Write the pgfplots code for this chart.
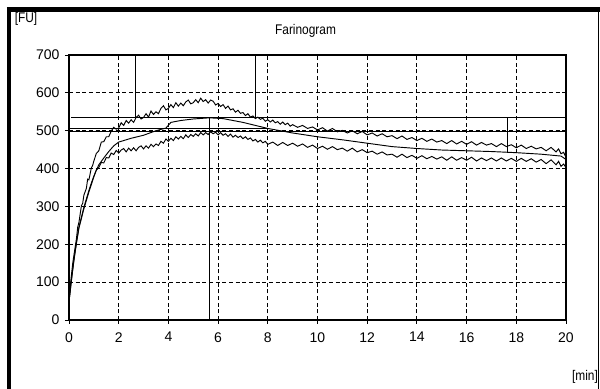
\documentclass[border=0pt]{standalone}
\usepackage{fontspec}
\setmainfont{Liberation Sans}
\newfontfamily\narrowfont{Liberation Sans}[FakeStretch=0.85]
\usepackage{pgfplots}
\pgfplotsset{compat=1.18}
\usepackage{pgfplotstable}

\pgfplotstableread{
t v
0 48
0.05 90
0.1 120
0.15 150
0.2 172
0.3 215
0.35 245
0.4 258
0.5 302
0.55 308
0.6 330
0.7 348
0.75 372
0.8 370
0.9 402
0.95 408
1.0 420
1.1 440
1.2 447
1.3 470
1.4 471
1.5 484
1.6 484
1.7 499
1.8 509
1.9 504
2.0 507
2.1 521
2.2 514
2.3 527
2.4 520
2.5 529
2.6 522
2.7 535
2.8 541
2.9 531
3.0 535
3.1 545
3.2 536
3.3 552
3.4 543
3.5 550
3.6 545
3.7 559
3.8 566
3.9 555
4.0 559
4.1 569
4.2 561
4.3 574
4.4 565
4.5 573
4.6 566
4.7 576
4.8 581
4.9 571
5.0 574
5.1 582
5.2 574
5.3 586
5.4 577
5.5 582
5.6 573
5.7 581
5.8 578
5.9 568
6.0 572
6.1 564
6.2 569
6.3 559
6.4 565
6.5 555
6.6 558
6.7 549
6.8 554
6.9 546
7.0 548
7.1 540
7.2 545
7.3 536
7.4 539
7.5 532
7.6 536
7.7 530
7.8 533
7.9 525
8.0 529
8.1 523
8.2 528
8.3 521
8.4 524
8.5 517
8.6 523
8.7 516
8.8 520
8.9 512
9.0 516
9.2 509
9.4 514
9.6 506
9.8 510
10.0 502
10.2 508
10.4 499
10.6 506
10.8 497
11.0 501
11.2 494
11.4 500
11.6 492
11.8 498
12.0 489
12.2 494
12.4 486
12.6 492
12.8 484
13.0 487
13.2 479
13.4 486
13.6 477
13.8 482
14.0 474
14.2 480
14.4 472
14.6 478
14.8 470
15.0 474
15.2 466
15.4 474
15.6 465
15.8 472
16.0 464
16.2 471
16.4 462
16.6 469
16.8 462
17.0 466
17.2 458
17.4 466
17.6 458
17.8 463
18.0 455
18.2 462
18.4 453
18.6 459
18.8 452
19.0 456
19.2 447
19.4 456
19.6 444
19.7 452
19.8 439
19.9 443
20.0 430
}\upperdata

\pgfplotstableread{
t v
0 48
0.1 105
0.2 160
0.3 205
0.4 245
0.5 272
0.6 298
0.7 320
0.8 342
0.9 362
1.0 380
1.1 396
1.2 410
1.4 428
1.6 445
1.8 460
2.0 470
2.5 480
3.0 488
3.5 500
3.9 507
4.1 522
4.5 527
5.0 531
5.65 534
6.2 532
7.0 522
8.0 506
9.0 494
10.0 484
11.0 476
12.0 467
13.0 458
14.0 453
15.0 449
16.0 447
17.0 445
18.0 442
19.0 438
19.8 433
20.0 424
}\middata

\pgfplotstableread{
t v
0 48
0.1 108
0.2 158
0.3 203
0.4 243
0.5 268
0.6 294
0.7 316
0.8 338
0.9 358
1.0 378
1.1 396
1.2 403
1.3 416
1.4 415
1.5 429
1.6 428
1.7 441
1.8 437
1.9 448
2.0 441
2.1 449
2.2 453
2.3 444
2.4 454
2.5 447
2.6 455
2.7 447
2.8 456
2.9 460
3.0 452
3.1 460
3.2 454
3.3 464
3.4 458
3.5 465
3.6 461
3.7 472
3.8 467
3.9 478
4.0 472
4.1 480
4.2 474
4.3 484
4.4 478
4.5 485
4.6 479
4.7 489
4.8 482
4.9 490
5.0 485
5.1 492
5.2 486
5.3 495
5.4 489
5.5 495
5.6 490
5.7 497
5.8 492
5.9 496
6.0 489
6.1 495
6.2 488
6.3 492
6.4 485
6.5 491
6.6 483
6.7 488
6.8 482
6.9 486
7.0 479
7.1 484
7.2 477
7.3 481
7.4 473
7.5 477
7.6 470
7.7 475
7.8 468
7.9 472
8.0 464
8.2 470
8.4 461
8.6 469
8.8 461
9.0 467
9.2 459
9.4 465
9.6 456
9.8 462
10.0 453
10.2 459
10.4 451
10.6 458
10.8 450
11.0 454
11.2 446
11.4 454
11.6 444
11.8 450
12.0 442
12.2 446
12.4 438
12.6 444
12.8 436
13.0 438
13.2 430
13.4 438
13.6 429
13.8 435
14.0 427
14.2 434
14.4 426
14.6 432
14.8 425
15.0 431
15.2 422
15.4 431
15.6 422
15.8 429
16.0 422
16.2 430
16.4 420
16.6 428
16.8 421
17.0 428
17.2 420
17.4 428
17.6 420
17.8 427
18.0 419
18.2 427
18.4 419
18.6 426
18.8 417
19.0 424
19.2 413
19.4 423
19.6 410
19.7 419
19.8 406
19.9 412
20.0 403
}\lowerdata

\begin{document}
\begin{tikzpicture}
\useasboundingbox (-51.75pt,-51.75pt) rectangle (398.25pt,240pt);
% outer frame
\draw[line width=3pt] (-45pt,-52pt) -- (-45pt,232.9pt);
\draw[line width=3.75pt] (-46.5pt,232.9pt) -- (399pt,232.9pt);
\draw[line width=0.75pt] (396.75pt,232.9pt) -- (396.75pt,-52pt);
\node[font=\narrowfont\fontsize{10.5}{12}\selectfont] at (-32.25pt,225.75pt) {[FU]};
\node[font=\narrowfont\fontsize{10.5}{12}\selectfont] at (177.4pt,216.75pt) {Farinogram};
\node[font=\narrowfont\fontsize{10.5}{12}\selectfont] at (387pt,-42.75pt) {[min]};
\begin{axis}[
  at={(0,0)}, anchor=south west,
  scale only axis,
  width=372.75pt, height=198.75pt,
  xmin=0, xmax=20, ymin=0, ymax=700,
  xtick={0,2,...,20}, ytick={0,100,...,700},
  grid=major,
  major grid style={black, line width=0.7pt, dash pattern=on 3pt off 2pt},
  tick align=outside,
  major tick length=3pt,
  tick style={black, line width=0.7pt},
  axis line style={black, line width=1pt},
  xtick pos=bottom, ytick pos=left,
  /pgf/number format/assume math mode=true,
  tick label style={font=\fontsize{10.5}{12}\selectfont},
  yticklabel style={inner sep=0pt, xshift=-4pt},
  xticklabel style={inner sep=0pt, yshift=-6pt},
  clip=true,
]
\addplot[black, line width=0.7pt] table[x=t,y=v] {\upperdata};
\addplot[black, line width=0.7pt] table[x=t,y=v] {\middata};
\addplot[black, line width=0.7pt] table[x=t,y=v] {\lowerdata};
% marker lines
\addplot[black, line width=0.8pt] coordinates {(0.1,534) (20,534)};
\addplot[black, line width=0.8pt] coordinates {(0,505) (7.95,505)};
\addplot[black, line width=0.8pt] coordinates {(0,497) (20,497)};
\addplot[black, line width=0.8pt] coordinates {(2.66,534) (2.66,700)};
\addplot[black, line width=0.8pt] coordinates {(7.52,534) (7.52,700)};
\addplot[black, line width=0.8pt] coordinates {(5.65,0) (5.65,534)};
\addplot[black, line width=0.8pt] coordinates {(17.64,442) (17.64,534)};
\end{axis}
\end{tikzpicture}
\end{document}
